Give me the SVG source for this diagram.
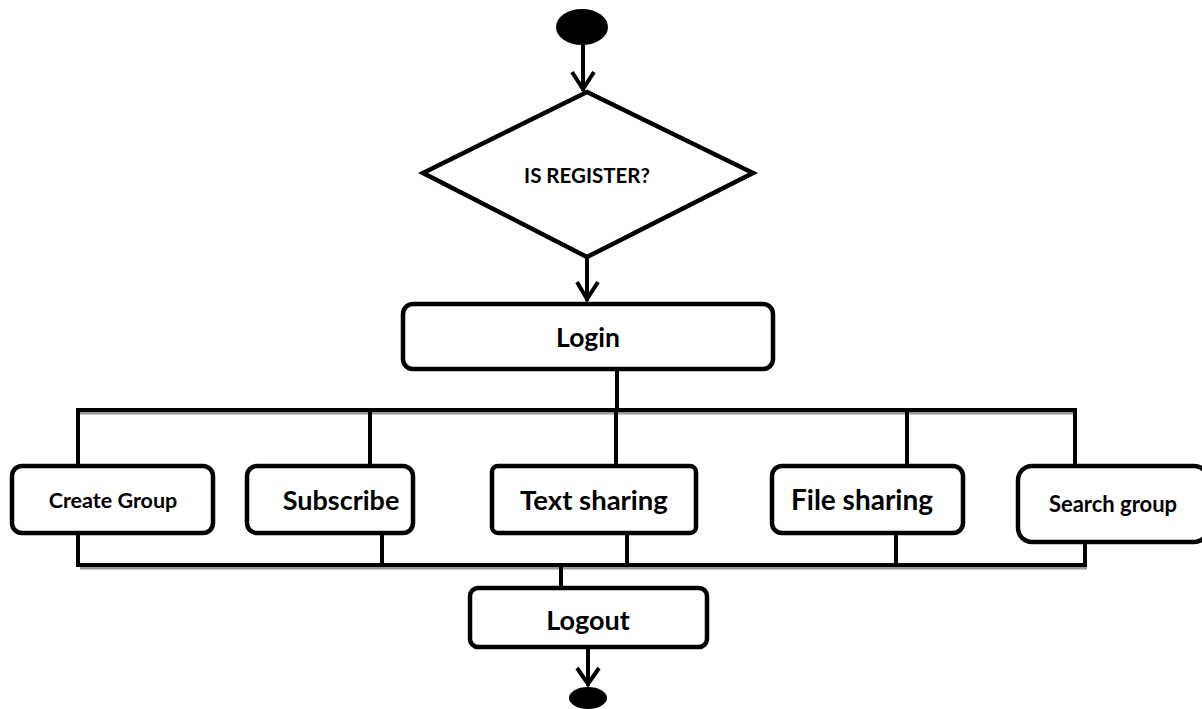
<svg xmlns="http://www.w3.org/2000/svg" width="1202" height="709" viewBox="0 0 1202 709">
<defs>
<style>
.box{fill:#fff;stroke:#000;stroke-width:4.5}
.ln{fill:none;stroke:#000;stroke-width:4;stroke-linecap:square}
.sh{fill:none;stroke:#999;stroke-width:3}
.t{font-family:Lato,"Open Sans","Liberation Sans",sans-serif;font-weight:bold;fill:#000;text-anchor:middle}
.head{fill:none;stroke:#000;stroke-width:4;stroke-linejoin:miter}
</style>
</defs>
<rect width="1202" height="709" fill="#fff"/>
<g id="connectors">
<line class="ln" x1="583" y1="44" x2="583" y2="89"/>
<polyline class="head" points="572,72 583,89 594,72"/>
<line class="ln" x1="587" y1="257" x2="587" y2="299"/>
<polyline class="head" points="577,282 587,299 598,282"/>
<line class="ln" x1="617" y1="370" x2="617" y2="410"/>
<line class="sh" x1="80" y1="413" x2="1077" y2="413"/>
<line class="ln" x1="78" y1="410" x2="1075" y2="410"/>
<line class="ln" x1="78" y1="410" x2="78" y2="464"/>
<line class="ln" x1="370" y1="410" x2="370" y2="464"/>
<line class="ln" x1="616" y1="410" x2="616" y2="464"/>
<line class="ln" x1="907" y1="410" x2="907" y2="464"/>
<line class="ln" x1="1075" y1="410" x2="1075" y2="464"/>
<line class="ln" x1="78" y1="535" x2="78" y2="565"/>
<line class="ln" x1="382" y1="535" x2="382" y2="565"/>
<line class="ln" x1="627" y1="535" x2="627" y2="565"/>
<line class="ln" x1="896" y1="535" x2="896" y2="565"/>
<line class="ln" x1="1085" y1="544" x2="1085" y2="565"/>
<line class="sh" x1="80" y1="568" x2="1087" y2="568"/>
<line class="ln" x1="78" y1="565" x2="1085" y2="565"/>
<line class="ln" x1="561" y1="565" x2="561" y2="586"/>
<line class="ln" x1="588" y1="649" x2="588" y2="684"/>
<polyline class="head" points="577,668 588,684 599,668"/>
</g>
<g id="start"><ellipse cx="582" cy="27" rx="26" ry="18" fill="#000"/></g>
<g id="decision">
<polygon class="box" points="587,92 753,173 587,257 423,173"/>
<text class="t" x="587" y="183" font-size="20.5">IS REGISTER?</text>
</g>
<g id="login">
<rect class="box" x="403" y="304" width="370" height="65" rx="10"/>
<text class="t" x="588" y="347" font-size="26.5">Login</text>
</g>
<g id="create-group">
<rect class="box" x="12" y="466" width="201" height="67" rx="10"/>
<text class="t" x="113" y="508" font-size="21.5">Create Group</text>
</g>
<g id="subscribe">
<rect class="box" x="247" y="466" width="166" height="67" rx="10"/>
<text class="t" x="341" y="510" font-size="27">Subscribe</text>
</g>
<g id="text-sharing">
<rect class="box" x="492" y="466" width="204" height="67" rx="6"/>
<text class="t" x="594" y="510" font-size="27.5">Text sharing</text>
</g>
<g id="file-sharing">
<rect class="box" x="772" y="466" width="191" height="67" rx="10"/>
<text class="t" x="862" y="510" font-size="28">File sharing</text>
</g>
<g id="search-group">
<rect class="box" x="1018" y="466" width="190" height="76" rx="14"/>
<text class="t" x="1113" y="512" font-size="22">Search group</text>
</g>
<g id="logout">
<rect class="box" x="470" y="588" width="237" height="59" rx="8"/>
<text class="t" x="588" y="630" font-size="27">Logout</text>
</g>
<g id="end"><ellipse cx="588" cy="698" rx="19" ry="11" fill="#000"/></g>
</svg>
